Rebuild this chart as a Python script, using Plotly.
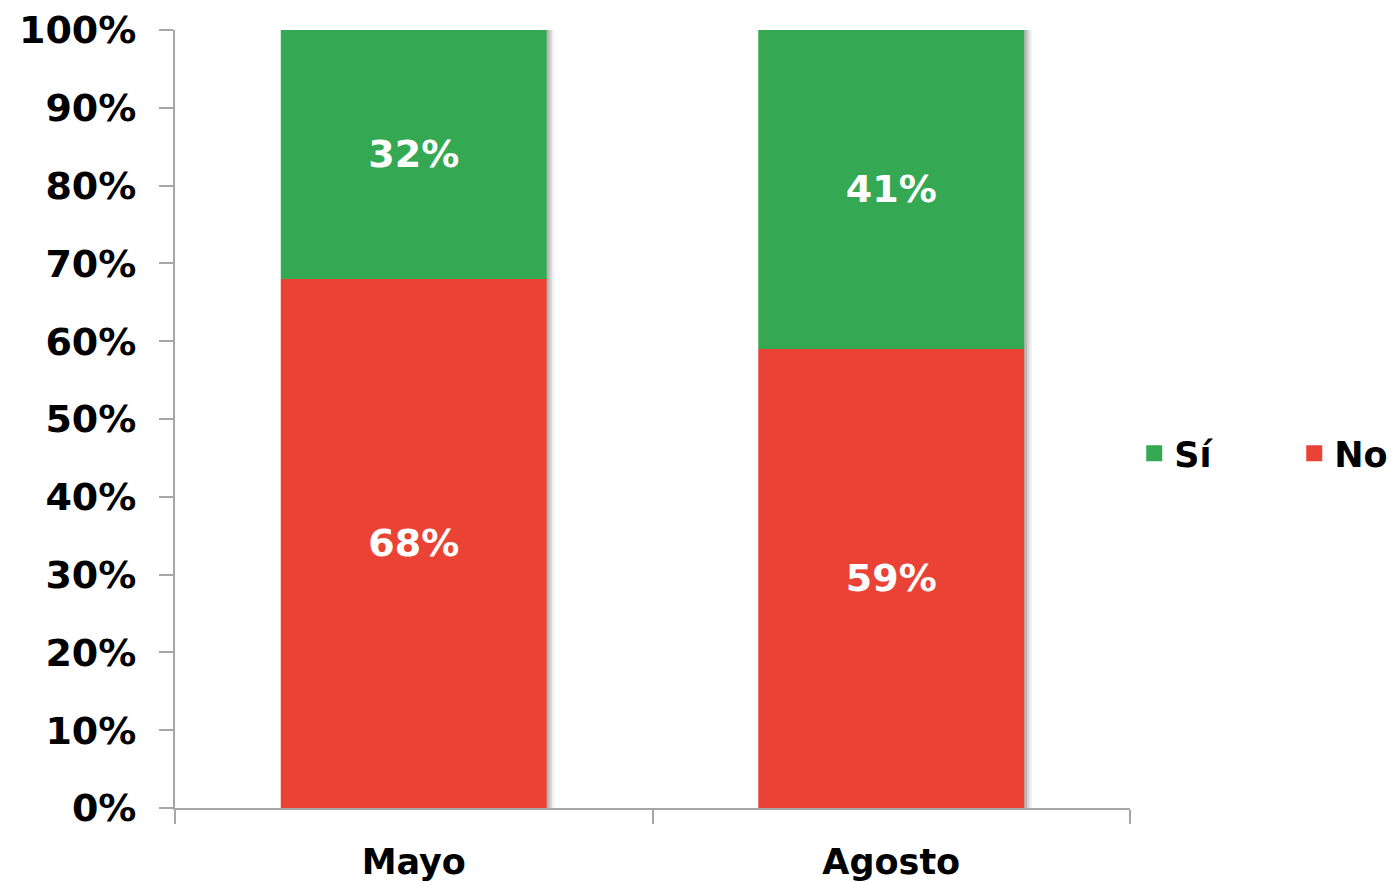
import plotly.graph_objects as go

categories = ["Mayo", "Agosto"]
no_values = [68, 59]
si_values = [32, 41]
tick_values = [0, 10, 20, 30, 40, 50, 60, 70, 80, 90, 100]
tick_labels = [f"{v}%" for v in tick_values]

GREEN = "#35A853"
RED = "#EA4335"
FONT = "DejaVu Sans, Verdana, sans-serif"
BAR_W = 0.557

totals = [a + b for a, b in zip(no_values, si_values)]

fig = go.Figure()

# soft shadow behind bars
for shift, alpha in [(0.016, 0.06), (0.011, 0.10), (0.006, 0.14)]:
    fig.add_trace(go.Bar(
        x=categories, y=totals, base=0,
        width=BAR_W, offset=-BAR_W / 2 + shift,
        marker=dict(color=f"rgba(0,0,0,{alpha})", line=dict(width=0)),
        showlegend=False, hoverinfo="skip",
    ))

fig.add_trace(go.Bar(
    name="No", x=categories, y=no_values, base=0,
    width=BAR_W, offset=-BAR_W / 2,
    marker=dict(color=RED, line=dict(width=0)),
    text=[f"{v}%" for v in no_values], textposition="inside",
    insidetextanchor="middle", textangle=0,
    textfont=dict(family=FONT, size=38, color="white", weight="bold"),
    showlegend=False,
))
fig.add_trace(go.Bar(
    name="Sí", x=categories, y=si_values, base=no_values,
    width=BAR_W, offset=-BAR_W / 2,
    marker=dict(color=GREEN, line=dict(width=0)),
    text=[f"{v}%" for v in si_values], textposition="inside",
    insidetextanchor="middle", textangle=0,
    textfont=dict(family=FONT, size=38, color="white", weight="bold"),
    showlegend=False,
))

# legend entries with square swatches
for name, color in [("Sí", GREEN), ("No", RED)]:
    fig.add_trace(go.Scatter(
        name=name, x=[None], y=[None], mode="markers",
        marker=dict(symbol="square", size=22, color=color),
        showlegend=True,
    ))

fig.update_layout(
    width=1387, height=875,
    barmode="overlay",
    plot_bgcolor="white", paper_bgcolor="white",
    margin=dict(l=167, r=265, t=22, b=75, autoexpand=False),
    font=dict(family=FONT, color="black"),
    showlegend=True,
    legend=dict(
        orientation="h",
        xref="container", yref="container",
        x=0.812, xanchor="left", y=0.491, yanchor="middle",
        entrywidth=115, entrywidthmode="pixels",
        itemwidth=30,
        font=dict(family=FONT, size=35, color="black", weight="bold"),
        itemsizing="trace",
    ),
    uniformtext=dict(minsize=10, mode="show"),
)

fig.update_xaxes(
    type="category", categoryorder="array", categoryarray=categories,
    range=[-0.5, 1.5],
    showline=True, linecolor="#A6A6A6", linewidth=2,
    ticks="outside", ticklen=14, tickcolor="#A6A6A6", tickwidth=2,
    tickson="boundaries", ticklabelstandoff=22,
    tickfont=dict(family=FONT, size=35, color="black", weight="bold"),
    showgrid=False, zeroline=False, automargin=False,
)
fig.update_yaxes(
    range=[0, 100], tickmode="array", tickvals=tick_values, ticktext=tick_labels,
    showline=True, linecolor="#A6A6A6", linewidth=2,
    ticks="outside", ticklen=14, tickcolor="#A6A6A6", tickwidth=2,
    ticklabelstandoff=15,
    tickfont=dict(family=FONT, size=38, color="black", weight="bold"),
    showgrid=False, zeroline=False, automargin=False,
)

fig.write_html("out.html")
